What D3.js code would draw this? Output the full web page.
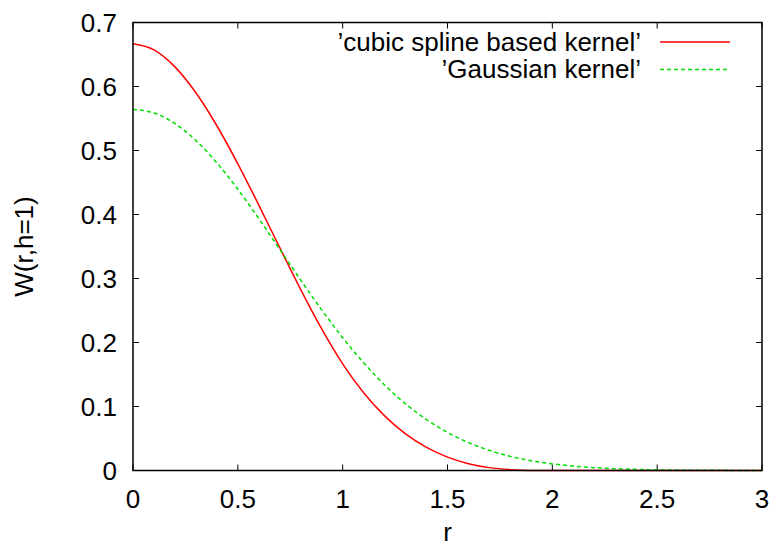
<!DOCTYPE html>
<html><head><meta charset="utf-8">
<script src="https://cdn.jsdelivr.net/npm/d3@7"></script>
<style>body{margin:0;background:#fff}svg{display:block}text{font-family:"Liberation Sans",Arial,sans-serif;fill:#000}</style>
</head><body>
<script>
const rValues = [0,0.1,0.2,0.3,0.4,0.5,0.6,0.7,0.8,0.9,1.0,1.1,1.2,1.3,1.4,1.5,1.6,1.7,1.8,1.9,2.0,2.1,2.2,2.3,2.4,2.5,2.6,2.7,2.8,2.9,3.0];
const cubicSpline = [0.66667,0.65717,0.63067,0.59017,0.53867,0.47917,0.41467,0.34817,0.28267,0.22117,0.16667,0.1215,0.08533,0.05717,0.036,0.02083,0.01067,0.0045,0.00133,0.00017,0,0,0,0,0,0,0,0,0,0,0];
const gaussian = [0.56419,0.55858,0.54207,0.51563,0.48077,0.43939,0.39363,0.34564,0.29749,0.25099,0.20756,0.16824,0.13367,0.10410,0.07947,0.05947,0.04361,0.03136,0.02209,0.01526,0.01033,0.00686,0.00446,0.00284,0.00178,0.00109,0.00065,0.00038,0.00022,0.00013,0.00007];
const xTicks = [0,0.5,1,1.5,2,2.5,3];
const yTicks = [0,0.1,0.2,0.3,0.4,0.5,0.6,0.7];
const seriesNames = ["\u2019cubic spline based kernel\u2019","\u2019Gaussian kernel\u2019"];

const W=776,H=547;
const L=133,R=762,T=22.5,B=470.5;
const svg=d3.select("body").append("svg").attr("width",W).attr("height",H);
const x=d3.scaleLinear().domain([0,3]).range([L,R]);
const y=d3.scaleLinear().domain([0,0.7]).range([B,T]);
const fs=26;

const tk=6;
const g=svg.append("g").attr("stroke","#000").attr("stroke-width",1);
xTicks.forEach(v=>{
  g.append("line").attr("x1",x(v)).attr("x2",x(v)).attr("y1",B).attr("y2",B-tk);
  g.append("line").attr("x1",x(v)).attr("x2",x(v)).attr("y1",T).attr("y2",T+tk);
});
yTicks.forEach(v=>{
  g.append("line").attr("x1",L).attr("x2",L+tk).attr("y1",y(v)).attr("y2",y(v));
  g.append("line").attr("x1",R).attr("x2",R-tk).attr("y1",y(v)).attr("y2",y(v));
});
svg.selectAll(".xl").data(xTicks).enter().append("text").attr("x",d=>x(d)).attr("y",B+37)
  .attr("text-anchor","middle").attr("font-size",fs).text(d=>d);
svg.selectAll(".yl").data(yTicks).enter().append("text").attr("x",L-16).attr("y",d=>y(d)+9)
  .attr("text-anchor","end").attr("font-size",fs).text(d=>d);
svg.append("text").attr("x",(L+R)/2).attr("y",541).attr("text-anchor","middle").attr("font-size",fs).text("r");
svg.append("text").attr("transform",`translate(33,${(T+B)/2}) rotate(-90)`).attr("text-anchor","middle").attr("font-size",fs).text("W(r,h=1)");

const line=d3.line().x((d,i)=>x(rValues[i])).y(d=>y(d)).curve(d3.curveMonotoneX);
svg.append("path").attr("d",line(cubicSpline)).attr("fill","none").attr("stroke","#ff0000").attr("stroke-width",1.5);
svg.append("path").attr("d",line(gaussian)).attr("fill","none").attr("stroke","#00dd00").attr("stroke-width",1.5).attr("stroke-dasharray","4,3");

const legY=[42,69.5];
svg.append("line").attr("x1",660).attr("x2",730).attr("y1",legY[0]).attr("y2",legY[0]).attr("stroke","#ff0000").attr("stroke-width",1.5);
svg.append("line").attr("x1",660).attr("x2",730).attr("y1",legY[1]).attr("y2",legY[1]).attr("stroke","#00dd00").attr("stroke-width",1.5).attr("stroke-dasharray","4,3");
seriesNames.forEach((n,i)=>svg.append("text").attr("x",641).attr("y",[51,78][i]).attr("text-anchor","end").attr("font-size",fs).text(n));

svg.append("rect").attr("x",L).attr("y",T).attr("width",R-L).attr("height",B-T).attr("fill","none").attr("stroke","#000").attr("stroke-width",1.5);
</script>
</body></html>
